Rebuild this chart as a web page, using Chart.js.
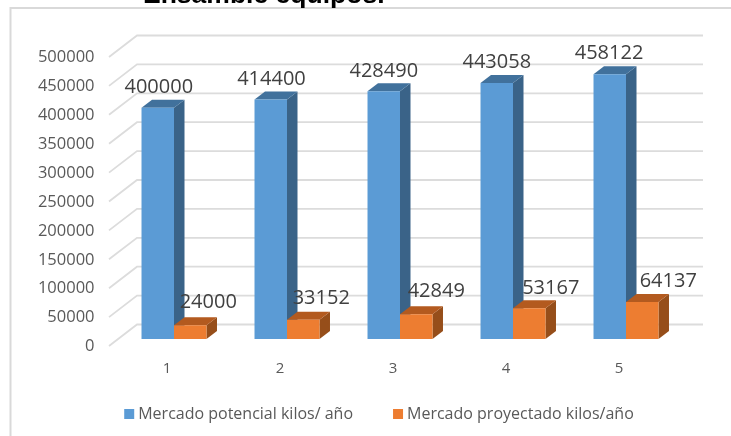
<!DOCTYPE html>
<html>
<head>
<meta charset="utf-8">
<style>
html,body{margin:0;padding:0;background:#fff}
#wrap{position:relative;width:731px;height:436px}
</style>
<script src="https://cdn.jsdelivr.net/npm/chart.js@4/dist/chart.umd.min.js"></script>
</head>
<body>
<div id="wrap"><canvas id="chart"></canvas></div>
<script>
const categories=['1','2','3','4','5']
const potencial=[400000,414400,428490,443058,458122]
const proyectado=[24000,33152,42849,53167,64137]
const yTicks=[0,50000,100000,150000,200000,250000,300000,350000,400000,450000,500000]
const titleText='Ensamble equipos.'
const seriesNames=['Mercado potencial kilos/ año','Mercado proyectado kilos/año']

const FONT='"Open Sans"'
// extrusion of the columns
const DX=10.5,DY=8
const sideColors=[{top:'#41719c',side:'#3a6388'},{top:'#b35a1f',side:'#964e1a'}]
// value labels were nudged by hand, one offset per column
const labelShiftX=[[1,0.7,0,0,-0.7],[18,18,20,21.5,26]]
const labelShiftY=[[-20.5,-20.5,-20.5,-20.5,-20.5],[-23,-21.5,-22.5,-19.5,-21]]
const LEGEND_TOP=362

const frame3d={
  id:'frame3d',
  // big label padding sets the gap between items, so pull the row back up
  afterLayout(chart){
    chart.legend.top=LEGEND_TOP
  },
  beforeDraw(chart){
    const ctx=chart.ctx,y=chart.scales.y
    ctx.save()
    // outer frame, open on the right and bottom
    ctx.strokeStyle='#d9d9d9'
    ctx.lineWidth=2
    ctx.beginPath()
    ctx.moveTo(10.5,436)
    ctx.lineTo(10.5,8)
    ctx.lineTo(731,8)
    ctx.stroke()
    // title runs off the top edge
    ctx.fillStyle='#000'
    ctx.font='bold 26.5px "Liberation Sans"'
    ctx.textAlign='left'
    ctx.textBaseline='alphabetic'
    ctx.fillText(titleText,143,2.5)
    // back wall and side wall lines
    ctx.strokeStyle='#dcdcdc'
    ctx.lineWidth=1.8
    yTicks.forEach(v=>{
      const py=y.getPixelForValue(v)
      ctx.beginPath()
      ctx.moveTo(109,py+7)
      ctx.lineTo(137,py-14.5)
      ctx.lineTo(703,py-14.5)
      ctx.stroke()
    })
    ctx.restore()
  },
  beforeDatasetsDraw(chart){
    const ctx=chart.ctx
    ctx.save()
    chart.data.datasets.forEach((ds,i)=>{
      chart.getDatasetMeta(i).data.forEach(bar=>{
        const p=bar.getProps(['x','y','base','width'],true)
        const r=p.x+p.width/2,l=p.x-p.width/2
        ctx.fillStyle=sideColors[i].side
        ctx.beginPath()
        ctx.moveTo(r,p.y)
        ctx.lineTo(r+DX,p.y-DY)
        ctx.lineTo(r+DX,p.base-DY)
        ctx.lineTo(r,p.base)
        ctx.closePath()
        ctx.fill()
        ctx.fillStyle=sideColors[i].top
        ctx.beginPath()
        ctx.moveTo(l,p.y)
        ctx.lineTo(l+DX,p.y-DY)
        ctx.lineTo(r+DX,p.y-DY)
        ctx.lineTo(r,p.y)
        ctx.closePath()
        ctx.fill()
      })
    })
    ctx.restore()
  },
  afterDatasetsDraw(chart){
    const ctx=chart.ctx
    ctx.save()
    ctx.fillStyle='#404040'
    ctx.font='20px '+FONT
    ctx.textAlign='center'
    ctx.textBaseline='middle'
    chart.data.datasets.forEach((ds,i)=>{
      chart.getDatasetMeta(i).data.forEach((bar,j)=>{
        const p=bar.getProps(['x','y'],true)
        ctx.fillText(String(ds.data[j]),p.x+labelShiftX[i][j],p.y+labelShiftY[i][j])
      })
    })
    ctx.restore()
  }
}

new Chart(document.getElementById('chart'),{
  type:'bar',
  plugins:[frame3d],
  data:{
    labels:categories,
    datasets:[
      {label:seriesNames[0],data:potencial,backgroundColor:'#5b9bd5'},
      {label:seriesNames[1],data:proyectado,backgroundColor:'#ed7d31'}
    ]
  },
  options:{
    responsive:true,
    maintainAspectRatio:false,
    animation:false,
    categoryPercentage:0.575,
    barPercentage:1,
    layout:{padding:{left:31,right:0,top:50,bottom:-13}},
    scales:{
      x:{
        grid:{display:false,drawTicks:false},
        border:{display:false},
        ticks:{color:'#595959',font:{family:FONT,size:15},labelOffset:-7,padding:21,maxRotation:0},
        afterFit(scale){scale.height=40}
      },
      y:{
        min:0,
        max:500000,
        grid:{display:false,drawTicks:false},
        border:{display:false},
        afterBuildTicks(scale){scale.ticks=yTicks.map(v=>({value:v}))},
        ticks:{color:'#595959',font:{family:FONT,size:16.5},labelOffset:7.5,padding:23,callback:v=>String(v)},
        afterFit(scale){scale.width=86.5}
      },
      // empty axis, only reserves the strip right of the columns
      spacer:{
        position:'right',
        grid:{display:false,drawTicks:false},
        border:{display:false},
        ticks:{display:false},
        afterFit(scale){scale.width=48.5}
      }
    },
    plugins:{
      title:{display:false},
      tooltip:{enabled:false},
      legend:{
        position:'bottom',
        labels:{
          color:'#595959',
          font:{family:FONT,size:16},
          boxWidth:2,
          boxHeight:2,
          padding:44,
          // thick stroke gives a 10px square with a tight gap to the text
          generateLabels(chart){
            return chart.data.datasets.map((ds,i)=>({
              text:ds.label,
              fontColor:'#595959',
              fillStyle:ds.backgroundColor,
              strokeStyle:ds.backgroundColor,
              lineWidth:8,
              datasetIndex:i
            }))
          }
        }
      }
    }
  }
})
</script>
</body>
</html>
